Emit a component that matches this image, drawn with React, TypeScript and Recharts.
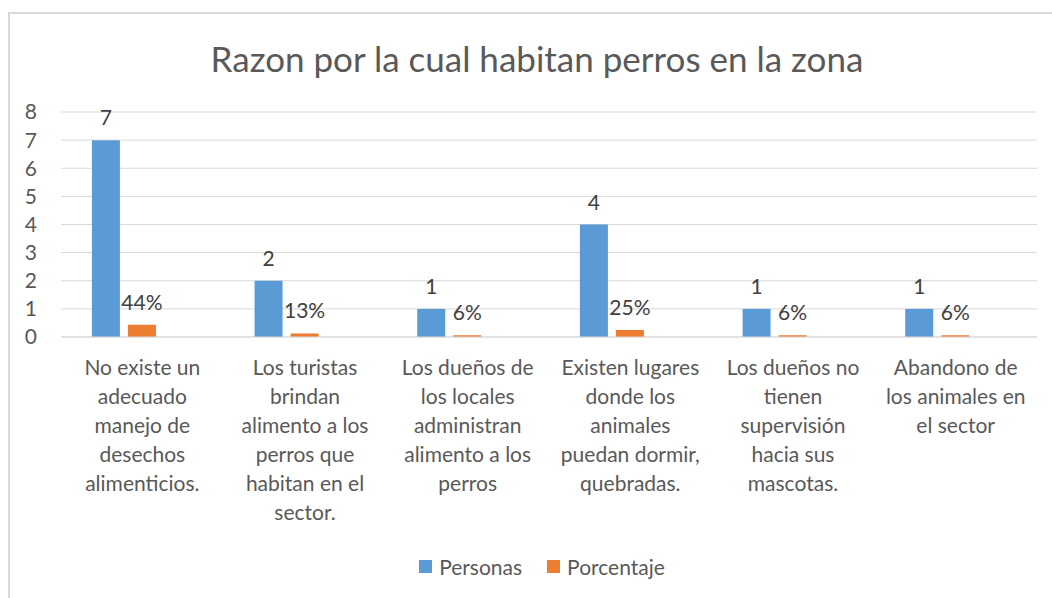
import { Bar, BarChart, CartesianGrid, LabelList, XAxis, YAxis } from "recharts";

const categories = [
  "No existe un\nadecuado\nmanejo de\ndesechos\nalimenticios.",
  "Los turistas\nbrindan\nalimento a los\nperros que\nhabitan en el\nsector.",
  "Los dueños de\nlos locales\nadministran\nalimento a los\nperros",
  "Existen lugares\ndonde los\nanimales\npuedan dormir,\nquebradas.",
  "Los dueños no\ntienen\nsupervisión\nhacia sus\nmascotas.",
  "Abandono de\nlos animales en\nel sector",
];
const personas = [7, 2, 1, 4, 1, 1];
const porcentaje = [0.4375, 0.125, 0.0625, 0.25, 0.0625, 0.0625];
const yTicks = [0, 1, 2, 3, 4, 5, 6, 7, 8];

const BLUE = "#5B9BD5";
const ORANGE = "#ED7D31";
const TEXT = "#595959";
const GRID = "#D9D9D9";
const FONT = "Lato, 'Liberation Sans', sans-serif";
const FS = 21;

const data = categories.map((name, i) => ({
  name,
  personas: personas[i],
  porcentaje: porcentaje[i],
}));

// category labels are pre-wrapped like the original (Excel wraps them)
function CategoryTick(props: any) {
  const { x, y, payload } = props;
  const lines = String(payload.value).split("\n");
  return (
    <g transform={`translate(${x},${y})`}>
      {lines.map((line, i) => (
        <text
          key={i}
          x={0}
          y={30 + i * 29}
          textAnchor="middle"
          fill={TEXT}
          fontSize={FS}
          fontFamily={FONT}
        >
          {line}
        </text>
      ))}
    </g>
  );
}

function LegendBox() {
  const items = [
    { label: "Personas", color: BLUE },
    { label: "Porcentaje", color: ORANGE },
  ];
  return (
    <div
      style={{
        position: "absolute",
        top: 554,
        left: 0,
        width: 1084,
        display: "flex",
        justifyContent: "center",
        gap: 25,
        fontFamily: FONT,
        fontSize: FS,
        color: TEXT,
      }}
    >
      {items.map((it) => (
        <div key={it.label} style={{ display: "flex", alignItems: "center" }}>
          <span
            style={{
              width: 13,
              height: 13,
              background: it.color,
              display: "inline-block",
              marginRight: 7,
            }}
          />
          {it.label}
        </div>
      ))}
    </div>
  );
}

export default function App() {
  return (
    <div
      style={{
        position: "absolute",
        left: 0,
        top: 0,
        width: 1052,
        height: 598,
        overflow: "hidden",
        background: "#fff",
      }}
    >
      <div
        style={{
          position: "absolute",
          left: 8,
          top: 12,
          width: 1100,
          height: 700,
          border: `2px solid ${GRID}`,
        }}
      />
      <div
        style={{
          position: "absolute",
          top: 37,
          left: 0,
          width: 1074,
          textAlign: "center",
          fontFamily: FONT,
          fontSize: 35,
          color: TEXT,
        }}
      >
        Razon por la cual habitan perros en la zona
      </div>
      <div style={{ position: "absolute", left: 0, top: 0 }}>
        <BarChart
          width={1052}
          height={598}
          data={data}
          margin={{ top: 112, right: 15, bottom: 0, left: 21 }}
          barGap={8}
          barCategoryGap="19%"
        >
          <CartesianGrid stroke={GRID} vertical={false} />
          <XAxis
            dataKey="name"
            height={261}
            interval={0}
            tickLine={false}
            axisLine={{ stroke: GRID }}
            tick={<CategoryTick />}
          />
          <YAxis
            width={40}
            domain={[0, 8]}
            ticks={yTicks}
            interval={0}
            tickLine={false}
            axisLine={false}
            tickSize={0}
            tickMargin={24}
            tick={{ fontSize: FS, fill: TEXT, fontFamily: FONT }}
          />
          <Bar dataKey="personas" fill={BLUE} isAnimationActive={false}>
            <LabelList
              dataKey="personas"
              position="top"
              offset={15}
              fill="#404040"
              fontSize={FS}
              fontFamily={FONT}
            />
          </Bar>
          <Bar dataKey="porcentaje" fill={ORANGE} isAnimationActive={false}>
            <LabelList
              dataKey="porcentaje"
              position="top"
              offset={15}
              fill="#404040"
              fontSize={FS}
              fontFamily={FONT}
              formatter={(v: any) => `${Math.round(Number(v) * 100)}%`}
            />
          </Bar>
          {/* the original has an empty third series that still takes a slot */}
          <Bar dataKey="empty" fill="none" legendType="none" isAnimationActive={false} />
        </BarChart>
      </div>
      <LegendBox />
    </div>
  );
}
